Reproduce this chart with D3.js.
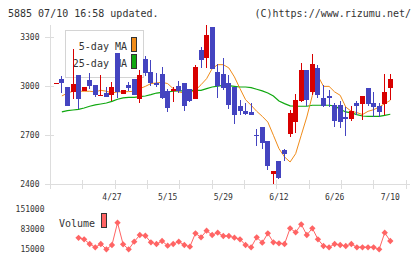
<!DOCTYPE html>
<html>
<head>
<meta charset="utf-8">
<script src="https://cdn.jsdelivr.net/npm/d3@7"></script>
<style>
    html, body { margin: 0; padding: 0; background: #fff; }
    svg { display: block; }
    text { font-family: "DejaVu Sans Mono", monospace; fill: #333; }
</style>
</head>
<body>
<svg id="chart" width="420" height="259"></svg>
<script>
// daily candles, oldest first (index 60 = 7/10)
const open  = [3017, 3044, 2995, 2967, 3071, 2971, 3038, 3007, 2943, 2960,
               2944, 3204, 2952, 3009, 3042, 2924, 3167, 3087, 3022, 3075,
               2971, 2969, 3001, 3020, 2983, 2924, 3222, 3175, 3363, 3087,
               3075, 3020, 2995, 2879, 2848, 2842, 2701, 2750, 2664, 2463,
               2541, 2611, 2709, 2780, 2909, 3102, 2965, 3112, 2928, 2940,
               2883, 2883, 2809, 2801, 2897, 2893, 2989, 2897, 2879, 2893,
               2989];
const high  = [3019, 3061, 2995, 3230, 3071, 2995, 3081, 3007, 3067, 2995,
               3026, 3204, 2977, 3026, 3042, 3097, 3187, 3163, 3081, 3118,
               2985, 2993, 3030, 3020, 2983, 3128, 3241, 3376, 3363, 3138,
               3173, 3071, 2995, 2913, 2899, 2899, 2735, 2750, 2664, 2480,
               2541, 2617, 2856, 2954, 3142, 3102, 3198, 3128, 3005, 2977,
               2897, 2909, 2872, 2879, 2907, 2940, 2989, 2965, 2899, 3077,
               3077];
const low   = [3017, 2958, 2881, 2924, 2858, 2971, 2985, 2932, 2938, 2936,
               2907, 2928, 2950, 2971, 2944, 2899, 3063, 3001, 2995, 2920,
               2842, 2903, 2960, 2848, 2903, 2924, 3114, 3114, 3105, 2930,
               2975, 2858, 2766, 2825, 2825, 2825, 2633, 2617, 2488, 2402,
               2429, 2539, 2688, 2715, 2903, 2879, 2948, 2930, 2872, 2875,
               2752, 2744, 2695, 2789, 2821, 2793, 2879, 2811, 2811, 2821,
               2913];
const close = [3019, 3020, 2881, 3016, 2924, 2995, 3001, 2948, 2948, 2936,
               2995, 2965, 2977, 2991, 2948, 3067, 3083, 3022, 3005, 2928,
               2868, 2983, 2969, 2881, 2909, 3118, 3163, 3314, 3105, 3001,
               2989, 2883, 2825, 2848, 2832, 2825, 2697, 2654, 2511, 2480,
               2439, 2586, 2836, 2915, 3102, 2917, 3138, 2948, 2877, 2928,
               2789, 2781, 2801, 2846, 2881, 2940, 2893, 2872, 2842, 2965,
               3046];

// moving averages
const ma5  = [null, 2940, 2958, 2969, 2969, 2969, 2969, 2965, 2975, 2969,
              2958, 2965, 2965, 2967, 2969, 2985, 2999, 3016, 3020, 3024,
              3016, 2985, 2965, 2958, 2960, 2975, 3009, 3046, 3108, 3132,
              3132, 3112, 3057, 2985, 2917, 2883, 2846, 2815, 2780, 2699,
              2617, 2566, 2535, 2586, 2699, 2811, 2944, 3063, 2999, 2999,
              2965, 2944, 2872, 2846, 2838, 2826, 2846, 2856, 2872, 2893,
              2913];
const ma25 = [null, 2842, 2850, 2854, 2858, 2866, 2877, 2885, 2891, 2897,
              2907, 2920, 2928, 2932, 2932, 2936, 2940, 2948, 2958, 2962,
              2965, 2969, 2971, 2971, 2975, 2975, 2975, 2985, 2995, 3001,
              3005, 3003, 2999, 2995, 2995, 2991, 2981, 2971, 2958, 2940,
              2909, 2893, 2879, 2877, 2877, 2877, 2883, 2883, 2883, 2883,
              2879, 2858, 2842, 2836, 2826, 2817, 2815, 2815, 2815, 2821,
              2828];

const volume = [null, null, null, null, 53000, 48000, 32000, 20800, 32000, 14000,
                28600, 104400, 31000, 14000, 40000, 62600, 60000, 37800, 32000, 42200,
                26200, 32000, 40000, 28600, 23000, 68300, 54800, 77200, 62600, 70400,
                59200, 59200, 53400, 48000, 28600, 20800, 54800, 36400, 68300, 37800,
                34400, 32000, 85400, 71800, 98900, 62600, 85400, 48000, 25200, 20800,
                32000, 28600, 25200, 32000, 20800, 20800, 20800, 20800, 14000, 70400,
                42200];

const dateIdx = [10, 20, 30, 40, 50, 60];
const dateLabels = ["4/27", "5/15", "5/29", "6/12", "6/26", "7/10"];
const priceTicks = [2400, 2700, 3000, 3300];
const volumeTicks = [15000, 83000, 151000];

const colors = {
    up: "#d80000",
    down: "#4444c0",
    ma5: "#f08c1a",
    ma25: "#10a810",
    volume: "#ff6464",
    grid: "#dddddd"
};

const svg = d3.select("#chart");

const x = d3.scaleLinear().domain([0, close.length - 1]).range([56.3, 390.3]);
const y = d3.scaleLinear().domain([2400, 3300]).range([184, 37.3]);
const yVol = d3.scaleLinear().domain([15000, 151000]).range([249, 209]);
// plain grid ticks along the date axis
const xGrid = d3.scaleLinear().domain([0, 11]).range([50, 405.7]);

// header texts
svg.append("text").attr("x", 8).attr("y", 16.5).attr("font-size", "10px")
    .text("5885 07/10 16:58 updated.");
svg.append("text").attr("x", 411).attr("y", 16.5).attr("font-size", "10px")
    .attr("text-anchor", "end")
    .text("(C)https://www.rizumu.net/");

// axes
const axes = svg.append("g").attr("stroke", colors.grid).attr("shape-rendering", "crispEdges");
axes.append("line").attr("x1", 50.5).attr("x2", 50.5).attr("y1", 25).attr("y2", 189);
axes.append("line").attr("x1", 45).attr("x2", 410).attr("y1", Math.round(y(2400)) + 0.5).attr("y2", Math.round(y(2400)) + 0.5);
axes.selectAll(".ytick").data(priceTicks).enter().append("line")
    .attr("x1", 45).attr("x2", 54)
    .attr("y1", d => Math.round(y(d)) + 0.5)
    .attr("y2", d => Math.round(y(d)) + 0.5);
axes.selectAll(".xtick").data(d3.range(1, 12)).enter().append("line")
    .attr("x1", d => Math.round(xGrid(d)) + 0.5)
    .attr("x2", d => Math.round(xGrid(d)) + 0.5)
    .attr("y1", 180).attr("y2", 189);

svg.selectAll(".ylabel").data(priceTicks).enter().append("text")
    .attr("x", 39.5).attr("y", d => y(d) + 3)
    .attr("text-anchor", "end").attr("font-size", "8px")
    .text(d => d);

svg.selectAll(".xlabel").data(dateIdx).enter().append("text")
    .attr("x", d => x(d)).attr("y", 199.5)
    .attr("text-anchor", "middle").attr("font-size", "8px")
    .text((d, i) => dateLabels[i]);

// legend box for the moving averages
const legend = svg.append("g");
legend.append("rect").attr("x", 65.5).attr("y", 30.5).attr("width", 78).attr("height", 47)
    .attr("fill", "#fff").attr("stroke", "#d4d4d4");
legend.append("text").attr("x", 127).attr("y", 50).attr("text-anchor", "end")
    .attr("font-size", "10px").text("5-day MA");
legend.append("text").attr("x", 127).attr("y", 67).attr("text-anchor", "end")
    .attr("font-size", "10px").text("25-day MA");
legend.append("rect").attr("x", 131.5).attr("y", 37.5).attr("width", 5).attr("height", 14)
    .attr("fill", colors.ma5).attr("stroke", "#333");
legend.append("rect").attr("x", 131.5).attr("y", 54.5).attr("width", 5).attr("height", 14)
    .attr("fill", colors.ma25).attr("stroke", "#333");

// moving average lines
const maLine = d3.line()
    .defined(d => d != null)
    .x((d, i) => x(i))
    .y(d => y(d));

svg.append("path").datum(ma25)
    .attr("d", maLine)
    .attr("fill", "none").attr("stroke", colors.ma25).attr("stroke-width", 1.2);
svg.append("path").datum(ma5)
    .attr("d", maLine)
    .attr("fill", "none").attr("stroke", colors.ma5).attr("stroke-width", 1);

// candles
const candles = svg.append("g").attr("shape-rendering", "crispEdges")
    .selectAll("g").data(close).enter().append("g")
    .attr("fill", (d, i) => close[i] >= open[i] ? colors.up : colors.down);

candles.append("rect")
    .attr("x", (d, i) => Math.round(x(i) - 2.5) + 2)
    .attr("width", 1)
    .attr("y", (d, i) => y(high[i]))
    .attr("height", (d, i) => Math.max(1, y(low[i]) - y(high[i])));

candles.append("rect")
    .attr("x", (d, i) => Math.round(x(i) - 2.5))
    .attr("width", 5)
    .attr("y", (d, i) => y(Math.max(open[i], close[i])))
    .attr("height", (d, i) => Math.max(1, Math.abs(y(open[i]) - y(close[i]))));

// volume panel
svg.selectAll(".vlabel").data(volumeTicks).enter().append("text")
    .attr("x", 44.5).attr("y", d => yVol(d) + 3)
    .attr("text-anchor", "end").attr("font-size", "8px")
    .text(d => d);

svg.append("text").attr("x", 95).attr("y", 226.5).attr("text-anchor", "end")
    .attr("font-size", "10px").text("Volume");
svg.append("rect").attr("x", 101.5).attr("y", 213.5).attr("width", 5).attr("height", 14)
    .attr("fill", colors.volume).attr("stroke", "#333");

const volLine = d3.line()
    .defined(d => d != null)
    .x((d, i) => x(i))
    .y(d => yVol(d));

svg.append("path").datum(volume)
    .attr("d", volLine)
    .attr("fill", "none").attr("stroke", colors.volume).attr("stroke-width", 1);

const diamond = d3.symbol().type(d3.symbolSquare).size(20);
svg.selectAll(".vpt").data(volume.map((v, i) => [i, v]).filter(d => d[1] != null))
    .enter().append("path")
    .attr("d", diamond)
    .attr("transform", d => `translate(${x(d[0])},${yVol(d[1])}) rotate(45)`)
    .attr("fill", colors.volume);
</script>
</body>
</html>
